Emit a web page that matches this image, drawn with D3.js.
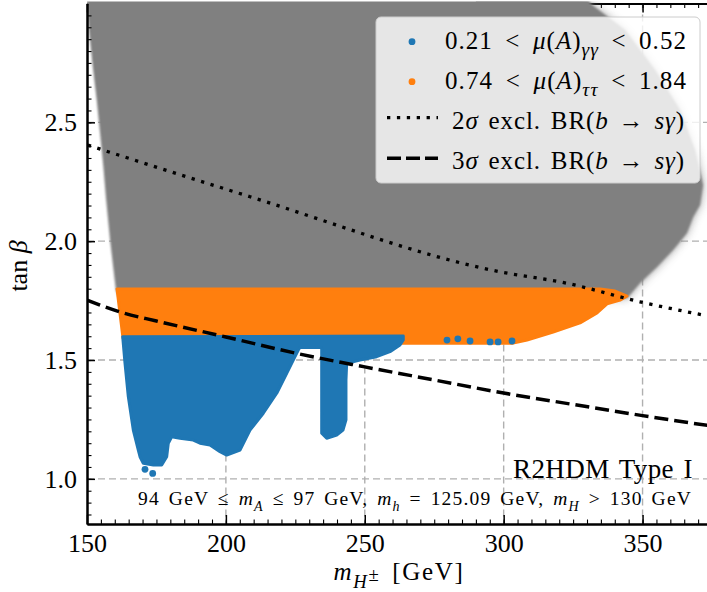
<!DOCTYPE html>
<html><head><meta charset="utf-8">
<script src="https://cdn.jsdelivr.net/npm/d3@7"></script>
<style>
body{margin:0;background:#fff}
svg{display:block}
text{font-family:"Liberation Serif","Times New Roman",serif;fill:#000;white-space:pre}
</style>
</head><body>
<svg id="c" width="707" height="592"></svg>
<script>
// ---------------- data ----------------
const xTicks = [150, 200, 250, 300, 350];
const yTicks = [1.0, 1.5, 2.0, 2.5];
const xMinor = d3.range(155, 376, 5);
const yMinor = d3.range(17, 60).map(k => +(k * 0.05).toFixed(2));

// grey cloud (all points) outline
const greyMH = [150.0, 150.8, 152.1, 153.5, 154.7, 155.9, 156.8, 158.3, 160.4, 161.5, 344.4, 349.1, 355.2, 361.0, 366.0, 368.2, 370.7, 371.8, 368.9, 363.5, 354.5, 343.7, 331.1, 330.0, 149.0];
const greyTB = [3.00, 2.876, 2.733, 2.594, 2.455, 2.312, 2.186, 2.005, 1.794, 1.76, 1.76, 1.824, 1.891, 1.963, 2.034, 2.102, 2.152, 2.236, 2.383, 2.552, 2.72, 2.888, 3.0, 3.05, 3.05];

// orange band: 0.74 < mu(A)_tautau < 1.84
const orangeMH = [160.8, 334.7, 340.1, 344.4, 341.9, 337.2, 333.6, 327.5, 317.8, 308.4, 303.4, 262.7, 162.96];
const orangeTB = [1.799, 1.799, 1.790, 1.769, 1.752, 1.736, 1.698, 1.656, 1.618, 1.584, 1.571, 1.571, 1.592];

// blue region: 0.21 < mu(A)_gammagamma < 0.52
const blueMH = [162.85, 263.86, 263.86, 262.67, 259.07, 254.28, 248.27, 243.48, 243.23, 243.23, 242.15, 239.89, 236.29, 234.49, 234.49, 234.49, 233.87, 226.67, 226.06, 224.26, 221.89, 218.29, 213.46, 208.68, 205.08, 200.29, 197.88, 194.28, 190.68, 188.27, 183.48, 180.49, 179.27, 178.69, 176.89, 173.87, 170.27, 169.08, 168.47, 166.67, 164.87, 163.68];
const blueTB = [1.598, 1.601, 1.584, 1.563, 1.535, 1.514, 1.500, 1.486, 1.416, 1.248, 1.205, 1.184, 1.171, 1.192, 1.416, 1.549, 1.553, 1.553, 1.542, 1.500, 1.444, 1.360, 1.276, 1.205, 1.121, 1.100, 1.114, 1.142, 1.150, 1.163, 1.171, 1.177, 1.150, 1.093, 1.058, 1.058, 1.065, 1.093, 1.121, 1.205, 1.346, 1.487];
// isolated blue points
const blueDotMH = [170.88, 173.65, 279.6, 283.5, 287.9, 295.1, 298.0, 303.0];
const blueDotTB = [1.040, 1.023, 1.584, 1.589, 1.580, 1.576, 1.576, 1.580];

// BR(b -> s gamma) exclusion lines
const line2MH = [150.3, 208.7, 298.7, 322.7, 349.0, 371.8, 376];
const line2TB = [2.404, 2.187, 1.871, 1.823, 1.745, 1.689, 1.679];
const line3MH = [150, 162.5, 175, 200, 225, 250, 275, 300, 325, 350, 375];
const line3TB = [1.752, 1.700, 1.664, 1.597, 1.529, 1.471, 1.416, 1.361, 1.313, 1.266, 1.222];

const legendLabels = [
  [["0.21 < ",""],["μ","i"],["(",""],["A","i"],[")",""],["γγ","si"],[" < 0.52",""]],
  [["0.74 < ",""],["μ","i"],["(",""],["A","i"],[")",""],["ττ","si"],[" < 1.84",""]],
  [["2",""],["σ","i"],[" excl. BR(",""],["b","i"],[" → ",""],["sγ","i"],[")",""]],
  [["3",""],["σ","i"],[" excl. BR(",""],["b","i"],[" → ",""],["sγ","i"],[")",""]]
];
const annot1 = "R2HDM Type I";
const annot2 = [["94 GeV ≤ ",""],["m","i"],["A","si"],[" ≤ 97 GeV, ",""],["m","i"],["h","si"],[" = 125.09 GeV, ",""],["m","i"],["H","si"],[" > 130 GeV",""]];
const xLabel = [["m","i"],["H","si"],["±","u"],[" [GeV]",""]];
const yLabel = [["tan ",""],["β","i"]];

const BLUE = "#1f77b4", ORANGE = "#ff7f0e", GREY = "#808080";

// ---------------- layout ----------------
const L = 87, R = 712, T = 3.5, B = 524;
const x = d3.scaleLinear().domain([150, 375]).range([L, R]);
const y = d3.scaleLinear().domain([0.81, 3.0]).range([B, T]);
const svg = d3.select("#c");
const defs = svg.append("defs");
defs.append("clipPath").attr("id","plot").append("rect").attr("x",L).attr("y",T-2).attr("width",R-L).attr("height",B-T+2);
defs.append("clipPath").attr("id","right").append("rect").attr("x",x(290)).attr("y",0).attr("width",400).attr("height",B);
defs.append("filter").attr("id","soft").append("feGaussianBlur").attr("stdDeviation",0.8);
defs.append("filter").attr("id","fuzz").attr("x","-20%").attr("y","-20%").attr("width","140%").attr("height","140%")
  .append("feGaussianBlur").attr("stdDeviation",5);

// segments: "i" italic, "s" subscript, "u" raised within subscript
function rich(sel, px, py, segs, size, anchor, subScale) {
  const ss = subScale || 0.72;
  const t = sel.append("text").attr("x", px).attr("y", py).attr("font-size", size).attr("text-anchor", anchor || "start");
  let shifted = 0;
  segs.forEach(([s, st]) => {
    const sp = t.append("tspan").text(s);
    const sub = st.includes("s"), up = st.includes("u");
    const target = sub ? size * 0.3 : (up ? size * 0.05 : 0);
    if (target !== shifted) { sp.attr("dy", target - shifted); shifted = target; }
    if (st.includes("i")) sp.attr("font-style", "italic");
    if (sub || up) sp.attr("font-size", size * ss);
  });
  return t;
}
// widen the text (Computer Modern is wider than Times) to the width measured on the reference
function fit(t, target, share) {
  const sh = share === undefined ? 0.6 : share;
  const w = t.node().getComputedTextLength();
  const txt = t.text();
  const n = (txt.match(/ /g) || []).length;
  const extra = target - w;
  const ls = extra * sh / txt.length;
  t.style("letter-spacing", ls.toFixed(2) + "px");
  const w2 = t.node().getComputedTextLength();
  if (n) t.style("word-spacing", ((target - w2) / n).toFixed(2) + "px");
  return t;
}
const zip = (a, b) => a.map((v, i) => [v, b[i]]);
const poly = d3.line().x(d => x(d[0])).y(d => y(d[1])).curve(d3.curveLinearClosed);

// grid
const grid = svg.append("g").attr("stroke", "#b0b0b0").attr("stroke-width", 1.4).attr("stroke-dasharray", "7,4");
grid.selectAll(".gx").data(xTicks.filter(d => d > 150)).join("line")
  .attr("x1", d => x(d)).attr("x2", d => x(d)).attr("y1", T).attr("y2", B);
grid.selectAll(".gy").data(yTicks).join("line")
  .attr("y1", d => y(d)).attr("y2", d => y(d)).attr("x1", L).attr("x2", R);

function styleAxis(g, w) {
  g.select(".domain").attr("stroke-width", 2);
  g.selectAll(".tick line").attr("stroke-width", w);
  g.attr("font-family", null).attr("font-size", null);
  g.selectAll("text").attr("font-size", 26);
}
// top axis (under the cloud)
svg.append("g").attr("transform", `translate(0,${T})`)
  .call(d3.axisTop(x).tickValues(xTicks).tickSize(-9).tickSizeOuter(0).tickFormat(""))
  .call(g => styleAxis(g, 1.5));
svg.append("g").attr("transform", `translate(0,${T})`)
  .call(d3.axisTop(x).tickValues(xMinor).tickSize(-4.5).tickSizeOuter(0).tickFormat(""))
  .call(g => styleAxis(g, 1.1));

// scatter regions
const plot = svg.append("g").attr("clip-path", "url(#plot)");
const greyPts = zip(greyMH, greyTB);
plot.append("g").attr("clip-path", "url(#right)").append("path").attr("d", poly(greyPts))
  .attr("fill", GREY).attr("opacity", 0.75).attr("filter", "url(#fuzz)");
plot.append("path").attr("d", poly(greyPts)).attr("fill", GREY).attr("filter", "url(#soft)");
plot.append("path").attr("d", poly(zip(orangeMH, orangeTB))).attr("fill", ORANGE)
  .attr("stroke", ORANGE).attr("stroke-width", 3).attr("stroke-linejoin", "round");
plot.append("path").attr("d", poly(zip(blueMH, blueTB))).attr("fill", BLUE)
  .attr("stroke", BLUE).attr("stroke-width", 3).attr("stroke-linejoin", "round");
plot.selectAll(".bd").data(zip(blueDotMH, blueDotTB)).join("circle")
  .attr("cx", d => x(d[0])).attr("cy", d => y(d[1])).attr("r", 3.4).attr("fill", BLUE);

// exclusion lines
const ln = d3.line().x(d => x(d[0])).y(d => y(d[1])).curve(d3.curveMonotoneX);
plot.append("path").attr("d", ln(zip(line2MH, line2TB))).attr("fill", "none")
  .attr("stroke", "#000").attr("stroke-width", 3.3).attr("stroke-dasharray", "3.3,6.6");
plot.append("path").attr("d", ln(zip(line3MH, line3TB))).attr("fill", "none")
  .attr("stroke", "#000").attr("stroke-width", 3.5).attr("stroke-dasharray", "14,6");

// bottom & left axes
svg.append("g").attr("transform", `translate(0,${B})`)
  .call(d3.axisBottom(x).tickValues(xMinor).tickSize(-4.5).tickSizeOuter(0).tickFormat(""))
  .call(g => styleAxis(g, 1.1));
svg.append("g").attr("transform", `translate(0,${B})`)
  .call(d3.axisBottom(x).tickValues(xTicks).tickSize(-9).tickSizeOuter(0).tickPadding(9.5).tickFormat(d3.format("d")))
  .call(g => styleAxis(g, 1.5));
svg.append("g").attr("transform", `translate(${L},0)`)
  .call(d3.axisLeft(y).tickValues(yMinor).tickSize(-4.5).tickSizeOuter(0).tickFormat(""))
  .call(g => styleAxis(g, 1.1));
svg.append("g").attr("transform", `translate(${L},0)`)
  .call(d3.axisLeft(y).tickValues(yTicks).tickSize(-8).tickSizeOuter(0).tickPadding(10).tickFormat(d3.format(".1f")))
  .call(g => styleAxis(g, 1.5));

// axis labels
fit(rich(svg, 399, 580, xLabel, 25, "middle", 0.75), 131, 0.8);
rich(svg.append("g").attr("transform", "translate(27,266) rotate(-90)"), 0, 0, yLabel, 26, "middle");

// annotations
fit(svg.append("text").attr("x", 693).attr("y", 478).attr("text-anchor", "end").attr("font-size", 27).text(annot1), 180, 0.5);
fit(rich(svg, 692, 505, annot2, 19.5, "end"), 554, 0.6);

// legend
const lg = svg.append("g");
lg.append("rect").attr("x", 376).attr("y", 17).attr("width", 324).attr("height", 166).attr("rx", 5)
  .attr("fill", "#fff").attr("fill-opacity", 0.8).attr("stroke", "#cccccc").attr("stroke-width", 1);
lg.append("circle").attr("cx", 412).attr("cy", 41.7).attr("r", 3.4).attr("fill", BLUE);
lg.append("circle").attr("cx", 412).attr("cy", 81.7).attr("r", 3.4).attr("fill", ORANGE);
lg.append("line").attr("x1", 387).attr("x2", 438).attr("y1", 117.7).attr("y2", 117.7)
  .attr("stroke", "#000").attr("stroke-width", 3.3).attr("stroke-dasharray", "3.3,6.6");
lg.append("line").attr("x1", 387).attr("x2", 438).attr("y1", 158.3).attr("y2", 158.3)
  .attr("stroke", "#000").attr("stroke-width", 3.5).attr("stroke-dasharray", "14,5");
fit(rich(lg, 445, 48.5, legendLabels[0], 25, "start", 0.78), 242, 0.5);
fit(rich(lg, 445, 88.5, legendLabels[1], 25, "start", 0.78), 242, 0.5);
fit(rich(lg, 452, 128.5, legendLabels[2], 25, "start"), 233, 0.6);
fit(rich(lg, 452, 168.5, legendLabels[3], 25, "start"), 233, 0.6);
</script>
</body></html>
